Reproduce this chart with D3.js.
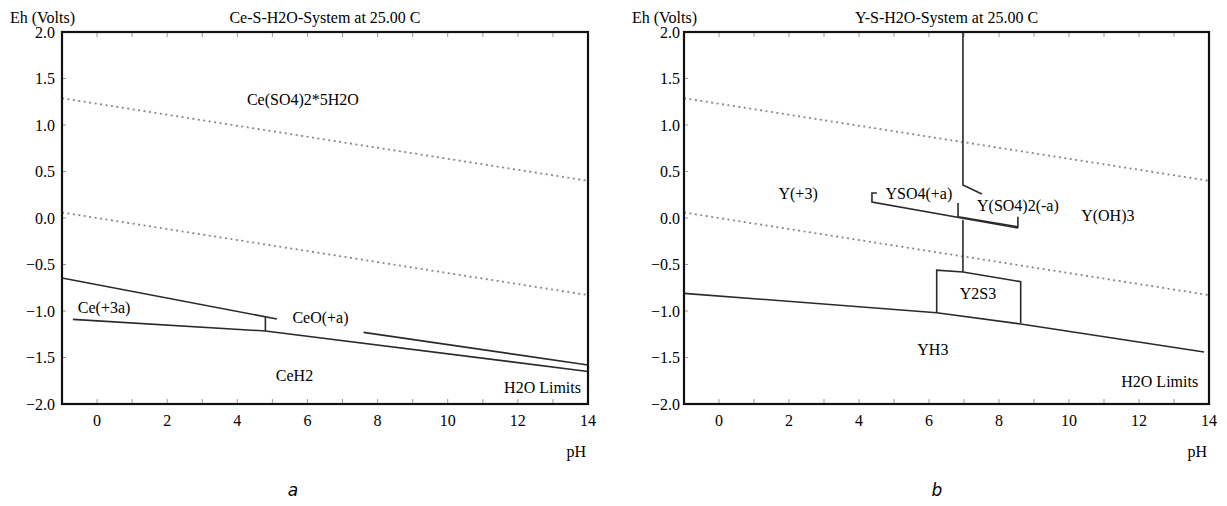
<!DOCTYPE html>
<html>
<head>
<meta charset="utf-8">
<script src="https://cdn.jsdelivr.net/npm/d3@7"></script>
<style>
  body { margin: 0; background: #fff; }
  svg text { font-family: "Liberation Serif", "Times New Roman", serif; fill: #000; }
  svg text.caption { font-family: "DejaVu Sans", sans-serif; font-style: italic; }
</style>
</head>
<body>
<svg width="1227" height="506"></svg>
<script>
// axis values
var phTicks = [0, 2, 4, 6, 8, 10, 12, 14];
var phMinor = d3.range(-1, 15, 1);
var ehTicks = [2.0, 1.5, 1.0, 0.5, 0.0, -0.5, -1.0, -1.5, -2.0];

// water stability limits (dotted), [pH, Eh]
var o2Limit = [[-1, 1.288], [14, 0.400]];
var h2Limit = [[-1, 0.059], [14, -0.829]];

// Ce-S-H2O boundaries
var ceUpper = [[-1, -0.645], [5.13, -1.086]];
var ceStep = [[4.80, -1.06], [4.80, -1.215]];
var ceLower = [[-0.69, -1.09], [4.80, -1.215], [14, -1.65]];
var ceOxide = [[7.6, -1.23], [14, -1.58]];
var ceLabels = [
  {t: "Ce(SO4)2*5H2O", ph: 5.87, eh: 1.28},
  {t: "Ce(+3a)", ph: 0.2, eh: -0.957},
  {t: "CeO(+a)", ph: 6.37, eh: -1.065},
  {t: "CeH2", ph: 5.63, eh: -1.69},
  {t: "H2O Limits", ph: 13.8, eh: -1.82, end: true}
];

// Y-S-H2O boundaries
var yTop = [[6.97, 2.0], [6.97, 0.355], [7.51, 0.258]];
var ySO4 = [[4.51, 0.269], [4.37, 0.269], [4.37, 0.172], [8.54, -0.108]];
var ySO42 = [[6.83, 0.16], [6.83, 0.014], [8.54, -0.094]];
var ySO42Right = [[8.54, 0.014], [8.54, -0.108]];
var yMid = [[6.97, -0.02], [6.97, -0.58]];
var y2S3 = [[6.22, -1.02], [6.22, -0.56], [6.97, -0.58], [8.62, -0.685], [8.62, -1.13]];
var yH3 = [[-1, -0.81], [6.22, -1.018], [8.62, -1.14], [13.86, -1.44]];
var yLabels = [
  {t: "Y(+3)", ph: 2.26, eh: 0.269},
  {t: "YSO4(+a)", ph: 5.71, eh: 0.269},
  {t: "Y(SO4)2(-a)", ph: 8.54, eh: 0.14},
  {t: "Y(OH)3", ph: 11.11, eh: 0.03},
  {t: "Y2S3", ph: 7.4, eh: -0.806},
  {t: "YH3", ph: 6.11, eh: -1.41},
  {t: "H2O Limits", ph: 13.69, eh: -1.76, end: true}
];

var panels = [
  {left: 62, right: 588, title: "Ce-S-H2O-System at 25.00 C", caption: "a", capX: 293,
   lines: [ceUpper, ceStep, ceLower, ceOxide], labels: ceLabels, ehLabelX: 55},
  {left: 684, right: 1209, title: "Y-S-H2O-System at 25.00 C", caption: "b", capX: 937,
   lines: [yTop, ySO4, ySO42, ySO42Right, yMid, y2S3, yH3], labels: yLabels, ehLabelX: 680}
];

var svg = d3.select("svg"),
    plotTop = 32,
    plotBottom = 404,
    fs = 16;

panels.forEach(function(p) {
  var x = d3.scaleLinear().domain([-1, 14]).range([p.left, p.right]);
  var y = d3.scaleLinear().domain([-2, 2]).range([plotBottom, plotTop]);
  var g = svg.append("g");
  var line = d3.line().x(function(d) { return x(d[0]); }).y(function(d) { return y(d[1]); });

  // minor ticks inside top and bottom
  g.selectAll(".tt").data(phMinor).enter().append("line")
      .attr("x1", function(d) { return x(d); }).attr("x2", function(d) { return x(d); })
      .attr("y1", plotTop).attr("y2", plotTop + 5)
      .attr("stroke", "#999").attr("stroke-width", 1);
  g.selectAll(".tb").data(phMinor).enter().append("line")
      .attr("x1", function(d) { return x(d); }).attr("x2", function(d) { return x(d); })
      .attr("y1", plotBottom).attr("y2", plotBottom - 5)
      .attr("stroke", "#999").attr("stroke-width", 1);
  g.selectAll(".ty").data(ehTicks).enter().append("line")
      .attr("x1", p.left).attr("x2", p.left + 4)
      .attr("y1", function(d) { return y(d); }).attr("y2", function(d) { return y(d); })
      .attr("stroke", "#999").attr("stroke-width", 1);

  // water limits
  [o2Limit, h2Limit].forEach(function(l) {
    g.append("path").attr("d", line(l))
        .attr("fill", "none").attr("stroke", "#888")
        .attr("stroke-width", 1.8).attr("stroke-dasharray", "2,3.5");
  });

  // phase boundaries
  p.lines.forEach(function(l) {
    g.append("path").attr("d", line(l))
        .attr("fill", "none").attr("stroke", "#2a2a2a").attr("stroke-width", 1.6);
  });

  // frame
  g.append("rect")
      .attr("x", p.left).attr("y", plotTop)
      .attr("width", p.right - p.left).attr("height", plotBottom - plotTop)
      .attr("fill", "none").attr("stroke", "#111").attr("stroke-width", 2.2);

  // axis labels
  g.selectAll(".xl").data(phTicks).enter().append("text")
      .attr("x", function(d) { return x(d); }).attr("y", plotBottom + 16)
      .attr("dy", "0.35em").attr("text-anchor", "middle")
      .attr("font-size", fs).text(function(d) { return d; });
  g.selectAll(".yl").data(ehTicks).enter().append("text")
      .attr("x", p.ehLabelX).attr("y", function(d) { return y(d); })
      .attr("dy", "0.35em").attr("text-anchor", "end")
      .attr("font-size", fs).text(function(d) { return d3.format(".1f")(d); });

  g.append("text").attr("x", p.left - 52).attr("y", 17).attr("dy", "0.35em")
      .attr("font-size", fs).text("Eh (Volts)");
  g.append("text").attr("x", (p.left + p.right) / 2).attr("y", 17).attr("dy", "0.35em")
      .attr("text-anchor", "middle").attr("font-size", fs).text(p.title);
  g.append("text").attr("x", p.right - 2).attr("y", 451).attr("dy", "0.35em")
      .attr("text-anchor", "end").attr("font-size", fs).text("pH");

  // region labels
  g.selectAll(".rl").data(p.labels).enter().append("text")
      .attr("x", function(d) { return x(d.ph); }).attr("y", function(d) { return y(d.eh); })
      .attr("dy", "0.35em").attr("text-anchor", function(d) { return d.end ? "end" : "middle"; })
      .attr("font-size", fs).text(function(d) { return d.t; });

  svg.append("text").attr("class", "caption")
      .attr("x", p.capX).attr("y", 490).attr("dy", "0.35em")
      .attr("text-anchor", "middle").attr("font-size", 17).text(p.caption);
});
</script>
</body>
</html>
